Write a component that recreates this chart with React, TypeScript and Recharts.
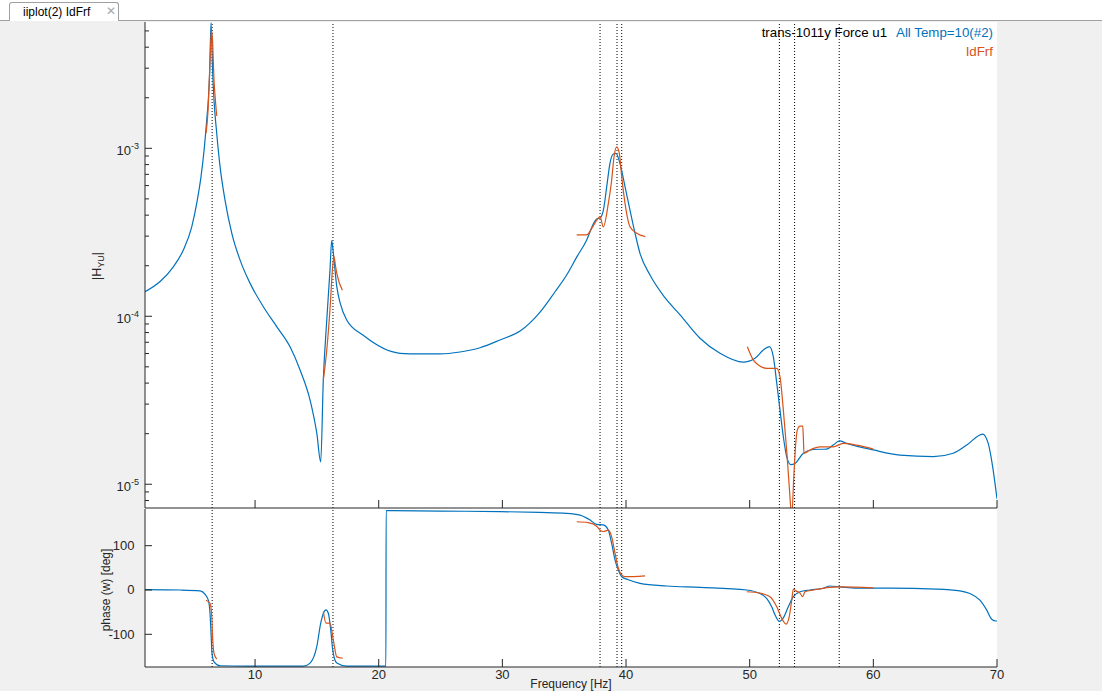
import React from "react";
import { LineChart, Line, XAxis, YAxis, ReferenceLine } from "recharts";

const FONT = '"Liberation Sans", Arial, Helvetica, sans-serif';
const INK = "#262626";
const BLUE = "#0072BD";
const ORANGE = "#D95319";

const F_MIN = 1.1;
const F_MAX = 70;
const MAG_MIN = 7.22e-6;
const MAG_MAX = 5.65e-3;
const PH_MIN = -173.8;
const PH_MAX = 182.8;

const freqTicks = [10, 20, 30, 40, 50, 60, 70];
const magDecades = [1e-5, 1e-4, 1e-3];
const phaseTicks = [-100, 0, 100];
// dotted lines: identified pole frequencies
const modeFreqs = [6.53, 16.3, 37.9, 39.27, 39.65, 52.4, 53.63, 57.24];

// All Temp=10(#2): [Hz, |H|]
const magAll: [number, number][] = [
  [1.1, 1.4e-4], [2.32, 1.61e-4], [3.39, 1.97e-4], [4.2, 2.48e-4], [4.88, 3.41e-4],
  [5.33, 4.92e-4], [5.63, 6.78e-4], [5.88, 9.77e-4], [6.09, 1.47e-3], [6.22, 1.94e-3],
  [6.33, 2.8e-3], [6.44, 5.6e-3], [6.56, 3.0e-3], [6.68, 1.94e-3], [6.9, 1.23e-3],
  [7.17, 7.78e-4], [7.57, 4.92e-4], [8.12, 3.12e-4], [8.79, 2.16e-4], [9.6, 1.57e-4],
  [10.67, 1.14e-4], [11.75, 8.68e-5], [12.89, 6.45e-5], [13.64, 4.79e-5], [14.45, 3.17e-5],
  [14.99, 2.02e-5], [15.31, 1.36e-5], [15.52, 4.17e-5], [15.8, 9.5e-5], [16.06, 1.89e-4],
  [16.2, 2.82e-4], [16.33, 2.38e-4], [16.61, 1.5e-4], [16.88, 1.2e-4], [17.41, 9.5e-5],
  [18.75, 7.7e-5], [21.72, 6.02e-5], [23.34, 5.97e-5], [24.96, 5.97e-5], [26.57, 6.13e-5],
  [28.19, 6.5e-5], [29.81, 7.23e-5], [31.43, 8.17e-5], [33.05, 1.06e-4], [34.26, 1.4e-4],
  [35.2, 1.76e-4], [36.01, 2.25e-4], [36.82, 2.85e-4], [37.36, 3.55e-4],
  [37.63, 3.8e-4], [37.9, 3.85e-4], [38.16, 4.25e-4], [38.44, 5.91e-4], [38.7, 8.14e-4],
  [38.97, 9.24e-4], [39.19, 9.33e-4], [39.51, 8.14e-4], [39.92, 5.91e-4], [40.32, 4.29e-4],
  [40.73, 3.12e-4], [41.13, 2.37e-4], [41.94, 1.76e-4], [43.15, 1.29e-4], [44.37, 1.02e-4],
  [45.98, 7.4e-5], [47.6, 6.02e-5], [49.48, 5.33e-5], [50.43, 5.62e-5], [51.1, 6.3e-5],
  [51.59, 6.59e-5], [51.91, 5.75e-5], [52.19, 3.99e-5], [52.45, 2.77e-5], [52.72, 1.92e-5],
  [52.99, 1.46e-5], [53.32, 1.31e-5], [53.66, 1.33e-5], [54.34, 1.53e-5], [55.14, 1.61e-5],
  [56.23, 1.62e-5], [56.76, 1.71e-5], [57.25, 1.81e-5], [57.85, 1.75e-5], [60.0, 1.6e-5],
  [62.15, 1.49e-5], [64.85, 1.46e-5], [66.46, 1.53e-5], [67.55, 1.71e-5], [68.84, 1.99e-5],
  [69.29, 1.75e-5], [69.65, 1.27e-5], [70.0, 8.2e-6],
];

const phaseAll: [number, number][] = [
  [1.1, 1], [3.94, 0], [5.56, -2], [5.96, -10], [6.22, -23], [6.36, -53], [6.44, -98],
  [6.52, -143], [6.68, -162], [7.17, -171], [9.33, -172], [13.91, -172], [14.45, -165],
  [14.99, -128], [15.31, -75], [15.52, -53], [15.74, -45], [15.93, -53], [16.12, -90],
  [16.28, -135], [16.61, -165], [17.41, -172], [20.58, -172], [20.6, 179], [25, 178],
  [29.81, 177], [33, 175], [35.2, 173], [36.28, 169], [37.09, 158], [37.63, 148],
  [38.16, 147], [38.57, 135], [38.84, 105], [39.11, 68], [39.38, 45], [39.65, 30],
  [40.19, 23], [41.13, 15], [43.29, 9], [45.98, 6], [49.76, 0], [50.83, -8], [51.37, -19],
  [51.78, -38], [52.05, -56], [52.4, -71], [52.72, -63], [53.12, -38], [53.53, -15],
  [54.07, -4], [54.88, 0], [55.95, 4], [56.49, 9], [57.3, 7], [58.65, 4], [61.35, 4],
  [65.12, 2], [67.0, -2], [67.81, -8], [68.62, -23], [69.16, -45], [69.57, -66],
  [69.92, -70], [70, -70],
];

// IdFrf, one local fit per mode group
const idMag1: [number, number][] = [
  [6.04, 1.23e-3], [6.2, 1.69e-3], [6.36, 3.36e-3], [6.48, 5.06e-3], [6.56, 4.41e-3],
  [6.68, 2.55e-3], [6.77, 2.03e-3], [6.9, 1.56e-3],
];
const idMag2: [number, number][] = [
  [15.52, 4.17e-5], [15.8, 6.3e-5], [16.06, 1.1e-4], [16.28, 2.0e-4], [16.39, 2.26e-4],
  [16.5, 2.0e-4], [16.61, 1.8e-4], [17.06, 1.43e-4],
];
const idMag3: [number, number][] = [
  [36.01, 3.05e-4], [36.82, 3.05e-4], [37.23, 3.34e-4], [37.63, 3.74e-4], [37.9, 3.92e-4],
  [38.16, 3.4e-4], [38.57, 4.7e-4], [38.84, 6.48e-4], [39.03, 8.91e-4], [39.25, 1.02e-3],
  [39.46, 9.33e-4], [39.65, 6.78e-4], [39.92, 4.7e-4], [40.32, 3.41e-4], [40.86, 3.12e-4],
  [41.56, 2.98e-4],
];
const idMag4: [number, number][] = [
  [49.81, 6.59e-5], [50.29, 5.5e-5], [50.7, 5.13e-5], [51.37, 4.9e-5], [52.19, 4.9e-5],
  [52.45, 4.37e-5], [52.72, 2.77e-5], [52.99, 1.6e-5], [53.2, 9.66e-6], [53.4, 6.5e-6],
  [53.58, 1.16e-5], [53.74, 1.81e-5], [53.85, 2.1e-5], [54.07, 2.22e-5], [54.29, 2.22e-5],
  [54.34, 1.9e-5], [54.39, 1.53e-5], [54.88, 1.6e-5], [55.68, 1.67e-5], [56.76, 1.67e-5],
  [57.57, 1.75e-5], [58.65, 1.71e-5], [60.0, 1.62e-5],
];

const idPh1: [number, number][] = [
  [6.04, -23], [6.36, -30], [6.5, -60], [6.58, -113], [6.68, -143], [6.9, -156],
];
const idPh2: [number, number][] = [
  [15.52, -49], [15.74, -75], [16.06, -75], [16.33, -113], [16.61, -151], [17.09, -154],
];
const idPh3: [number, number][] = [
  [36.01, 154], [36.95, 152], [37.63, 144], [37.9, 135], [38.16, 132], [38.57, 135],
  [38.84, 120], [39.11, 83], [39.38, 49], [39.65, 34], [39.92, 30], [41.54, 32],
];
const idPh4: [number, number][] = [
  [49.76, -4], [50.83, -7], [51.64, -15], [52.19, -38], [52.59, -64], [52.94, -77],
  [53.2, -60], [53.4, -23], [53.53, 2], [53.74, -2], [54.07, -7], [54.29, -15],
  [54.47, -4], [55.14, 0], [56.49, 6], [57.3, 7], [60.0, 5],
];

const rows = (pts: [number, number][]) => pts.map(([f, v]) => ({ f, v }));

const magTicks = [1e-6, ...magDecades]
  .flatMap((d) => [1, 2, 3, 4, 5, 6, 7, 8, 9].map((m) => m * d))
  .filter((t) => t >= MAG_MIN && t <= MAG_MAX);

function MagTick(props: any) {
  const { x, y, payload } = props;
  const v = payload.value as number;
  const major = magDecades.some((d) => Math.abs(v / d - 1) < 1e-6);
  const exp = Math.round(Math.log10(v));
  return (
    <g>
      <line x1={x} y1={y} x2={x + (major ? 7 : 4)} y2={y} stroke={INK} />
      {major && (
        <text x={x - 6} y={y + 6.5} textAnchor="end" fontSize={13} fill={INK} fontFamily={FONT}>
          10<tspan dy={-6} fontSize={9}>{exp}</tspan>
        </text>
      )}
    </g>
  );
}

function PhaseTick(props: any) {
  const { x, y, payload } = props;
  return (
    <g>
      <line x1={x} y1={y} x2={x + 7} y2={y} stroke={INK} />
      <text x={x - 10.5} y={y + 4.5} textAnchor="end" fontSize={13} fill={INK} fontFamily={FONT}>
        {payload.value}
      </text>
    </g>
  );
}

function FreqTick(props: any) {
  const { x, y, payload, labelled } = props;
  return (
    <g>
      <line x1={x} y1={y} x2={x} y2={y - 8} stroke={INK} />
      {labelled && (
        <text x={x} y={y + 11.5} textAnchor="middle" fontSize={13} fill={INK} fontFamily={FONT}>
          {payload.value}
        </text>
      )}
    </g>
  );
}

export default function App() {
  const dotted = (key: string) =>
    modeFreqs.map((f) => (
      <ReferenceLine key={key + f} x={f} stroke="#000" strokeDasharray="1 2" strokeWidth={1} />
    ));

  return (
    <div
      style={{
        position: "absolute",
        left: 0,
        top: 0,
        width: 1102,
        height: 691,
        background: "#F0F0F0",
        fontFamily: FONT,
        overflow: "hidden",
      }}
    >
      {/* tab strip */}
      <div
        style={{
          position: "absolute",
          left: 0,
          top: 0,
          width: 1102,
          height: 20,
          background: "#fff",
          borderBottom: "1px solid #a0a0a0",
        }}
      />
      <div
        style={{
          position: "absolute",
          left: 9,
          top: 2,
          width: 110,
          height: 19,
          background: "#fff",
          border: "1px solid #a0a0a0",
          borderBottom: "none",
          borderRadius: "3px 3px 0 0",
          boxSizing: "border-box",
          fontSize: 12,
          color: "#000",
        }}
      >
        <span style={{ position: "absolute", left: 13, top: 2 }}>iiplot(2) IdFrf</span>
        <span style={{ position: "absolute", left: 96, top: 1, color: "#a8a8a8", fontSize: 12 }}>✕</span>
      </div>

      {/* white axes area */}
      <div style={{ position: "absolute", left: 145, top: 22, width: 852, height: 645, background: "#fff" }} />

      {/* magnitude */}
      <div style={{ position: "absolute", left: 0, top: 0 }}>
        <LineChart width={1102} height={528} margin={{ top: 22, right: 105, left: 0, bottom: 0 }}>
          <XAxis
            type="number"
            dataKey="f"
            domain={[F_MIN, F_MAX]}
            allowDataOverflow
            ticks={freqTicks}
            interval={0}
            height={20}
            tickSize={0}
            tickMargin={0}
            tickLine={false}
            axisLine={{ stroke: INK }}
            tick={(p: any) => <FreqTick {...p} labelled={false} />}
          />
          <YAxis
            type="number"
            scale="log"
            domain={[MAG_MIN, MAG_MAX]}
            allowDataOverflow
            ticks={magTicks}
            interval={0}
            width={145}
            tickSize={0}
            tickMargin={0}
            tickLine={false}
            axisLine={{ stroke: INK }}
            tick={(p: any) => <MagTick {...p} />}
          />
          {dotted("m")}
          <Line data={rows(magAll)} dataKey="v" type="monotone" stroke={BLUE} strokeWidth={1.2} dot={false} isAnimationActive={false} />
          {[idMag1, idMag2, idMag3, idMag4].map((seg, i) => (
            <Line key={"im" + i} data={rows(seg)} dataKey="v" type="monotone" stroke={ORANGE} strokeWidth={1.2} dot={false} isAnimationActive={false} />
          ))}
        </LineChart>
      </div>

      {/* phase */}
      <div style={{ position: "absolute", left: 0, top: 500 }}>
        <LineChart width={1102} height={191} margin={{ top: 9, right: 105, left: 0, bottom: 0 }}>
          <XAxis
            type="number"
            dataKey="f"
            domain={[F_MIN, F_MAX]}
            allowDataOverflow
            ticks={freqTicks}
            interval={0}
            height={24}
            tickSize={0}
            tickMargin={0}
            tickLine={false}
            axisLine={{ stroke: INK }}
            tick={(p: any) => <FreqTick {...p} labelled />}
          />
          <YAxis
            type="number"
            domain={[PH_MIN, PH_MAX]}
            allowDataOverflow
            ticks={phaseTicks}
            interval={0}
            width={145}
            tickSize={0}
            tickMargin={0}
            tickLine={false}
            axisLine={{ stroke: INK }}
            tick={(p: any) => <PhaseTick {...p} />}
          />
          {dotted("p")}
          <Line data={rows(phaseAll)} dataKey="v" type="monotone" stroke={BLUE} strokeWidth={1.2} dot={false} isAnimationActive={false} />
          {[idPh1, idPh2, idPh3, idPh4].map((seg, i) => (
            <Line key={"ip" + i} data={rows(seg)} dataKey="v" type="monotone" stroke={ORANGE} strokeWidth={1.2} dot={false} isAnimationActive={false} />
          ))}
        </LineChart>
      </div>

      {/* labels and legend */}
      <svg
        width={1102}
        height={691}
        style={{ position: "absolute", left: 0, top: 0, pointerEvents: "none" }}
        fontFamily={FONT}
      >
        <text transform="translate(101,266) rotate(-90)" textAnchor="middle" fontSize={12.5} fill={INK}>
          |H<tspan dy={3} fontSize={9}>YU</tspan><tspan dy={-3}>|</tspan>
        </text>
        <text transform="translate(110,590) rotate(-90)" textAnchor="middle" fontSize={12} fill={INK}>
          phase (w) [deg]
        </text>
        <text x={571} y={688} textAnchor="middle" fontSize={12} fill={INK}>
          Frequency [Hz]
        </text>
        <text x={993} y={37} textAnchor="end" fontSize={13.3}>
          <tspan fill="#000">trans-1011y Force u1</tspan>
          <tspan dx={9} fill={BLUE}>All Temp=10(#2)</tspan>
        </text>
        <text x={993} y={56} textAnchor="end" fontSize={13.3} fill={ORANGE}>
          IdFrf
        </text>
      </svg>
    </div>
  );
}
